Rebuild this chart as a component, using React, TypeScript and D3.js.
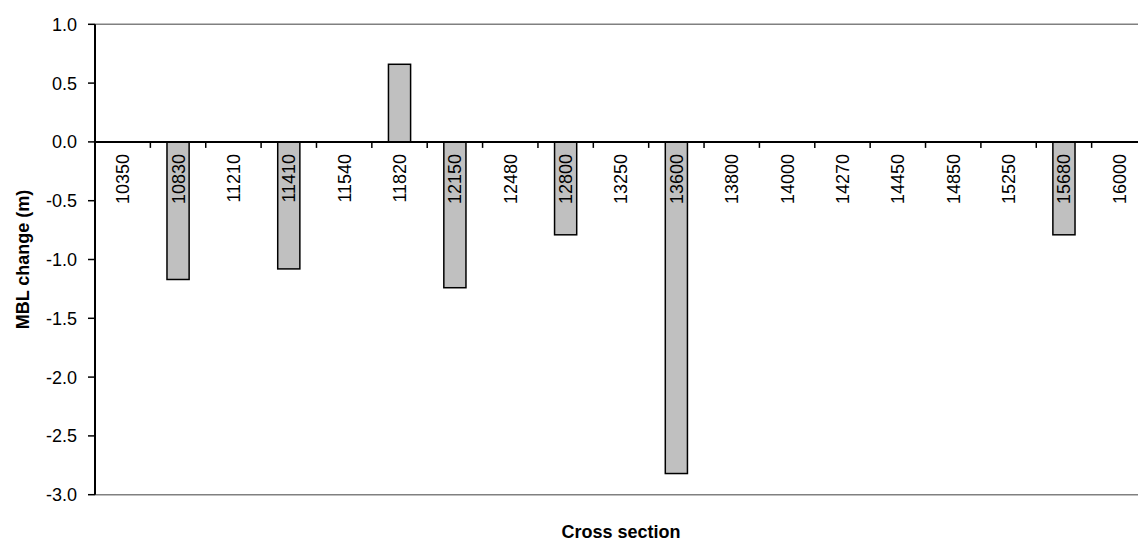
import React from "react";
import * as d3 from "d3";

const categories = ["10350", "10830", "11210", "11410", "11540", "11820", "12150", "12480", "12800", "13250", "13600", "13800", "14000", "14270", "14450", "14850", "15250", "15680", "16000"];
const values = [0, -1.17, 0, -1.08, 0, 0.66, -1.24, 0, -0.79, 0, -2.82, 0, 0, 0, 0, 0, 0, -0.79, 0];
const yTicks = [1.0, 0.5, 0.0, -0.5, -1.0, -1.5, -2.0, -2.5, -3.0];
const yTitle = "MBL change (m)";
const xTitle = "Cross section";

const W = 1138;
const H = 541;
const left = 95;
const right = 1147;
const top = 24.3;
const bottom = 494.7;
const FONT = "'Liberation Sans', Arial, sans-serif";
const FS = 18;

export default function App() {
  const x = d3.scaleBand<string>().domain(categories).range([left, right]).paddingInner(0).paddingOuter(0);
  const y = d3.scaleLinear().domain([-3, 1]).range([bottom, top]);
  const bw = x.bandwidth();
  const barW = bw / 2.5;
  const y0 = y(0);

  return (
    <div style={{ position: "fixed", left: 0, top: 0, width: W, height: H, background: "#fff" }}>
      <svg width={W} height={H} style={{ display: "block" }} fontFamily={FONT}>
        <rect x={0} y={0} width={W} height={H} fill="#fff" />
        <line x1={left} x2={right} y1={top} y2={top} stroke="#808080" strokeWidth={1.5} />
        <line x1={left} x2={right} y1={bottom} y2={bottom} stroke="#808080" strokeWidth={1.5} />
        {categories.map((c, i) => {
          const v = values[i];
          if (v === 0) return null;
          const cx = (x(c) as number) + bw / 2;
          const yv = y(v);
          return (
            <rect
              key={c}
              x={cx - barW / 2}
              y={Math.min(yv, y0)}
              width={barW}
              height={Math.abs(yv - y0)}
              fill="#c0c0c0"
              stroke="#000"
              strokeWidth={1.5}
            />
          );
        })}
        <line x1={left} x2={left} y1={top} y2={bottom} stroke="#000" strokeWidth={2} />
        {yTicks.map((t) => (
          <g key={t}>
            <line x1={left - 7} x2={left} y1={y(t)} y2={y(t)} stroke="#000" strokeWidth={1.5} />
            <text x={left - 18} y={y(t)} dy="0.36em" textAnchor="end" fontSize={FS} fill="#000">
              {t.toFixed(1)}
            </text>
          </g>
        ))}
        <line x1={left} x2={right} y1={y0} y2={y0} stroke="#000" strokeWidth={2} />
        {categories.slice(1).map((c) => (
          <line key={"t" + c} x1={x(c) as number} x2={x(c) as number} y1={y0} y2={y0 + 6} stroke="#000" strokeWidth={1.5} />
        ))}
        {categories.map((c) => {
          const cx = (x(c) as number) + bw / 2;
          return (
            <text
              key={"l" + c}
              transform={`translate(${cx},${y0 + 12}) rotate(-90)`}
              dy="0.36em"
              textAnchor="end"
              fontSize={FS}
              fill="#000"
            >
              {c}
            </text>
          );
        })}
        <text
          transform={`translate(29,${(top + bottom) / 2}) rotate(-90)`}
          textAnchor="middle"
          fontSize={FS}
          fontWeight="bold"
          fill="#000"
        >
          {yTitle}
        </text>
        <text x={(left + right) / 2} y={537.5} textAnchor="middle" fontSize={FS} fontWeight="bold" fill="#000">
          {xTitle}
        </text>
      </svg>
    </div>
  );
}
